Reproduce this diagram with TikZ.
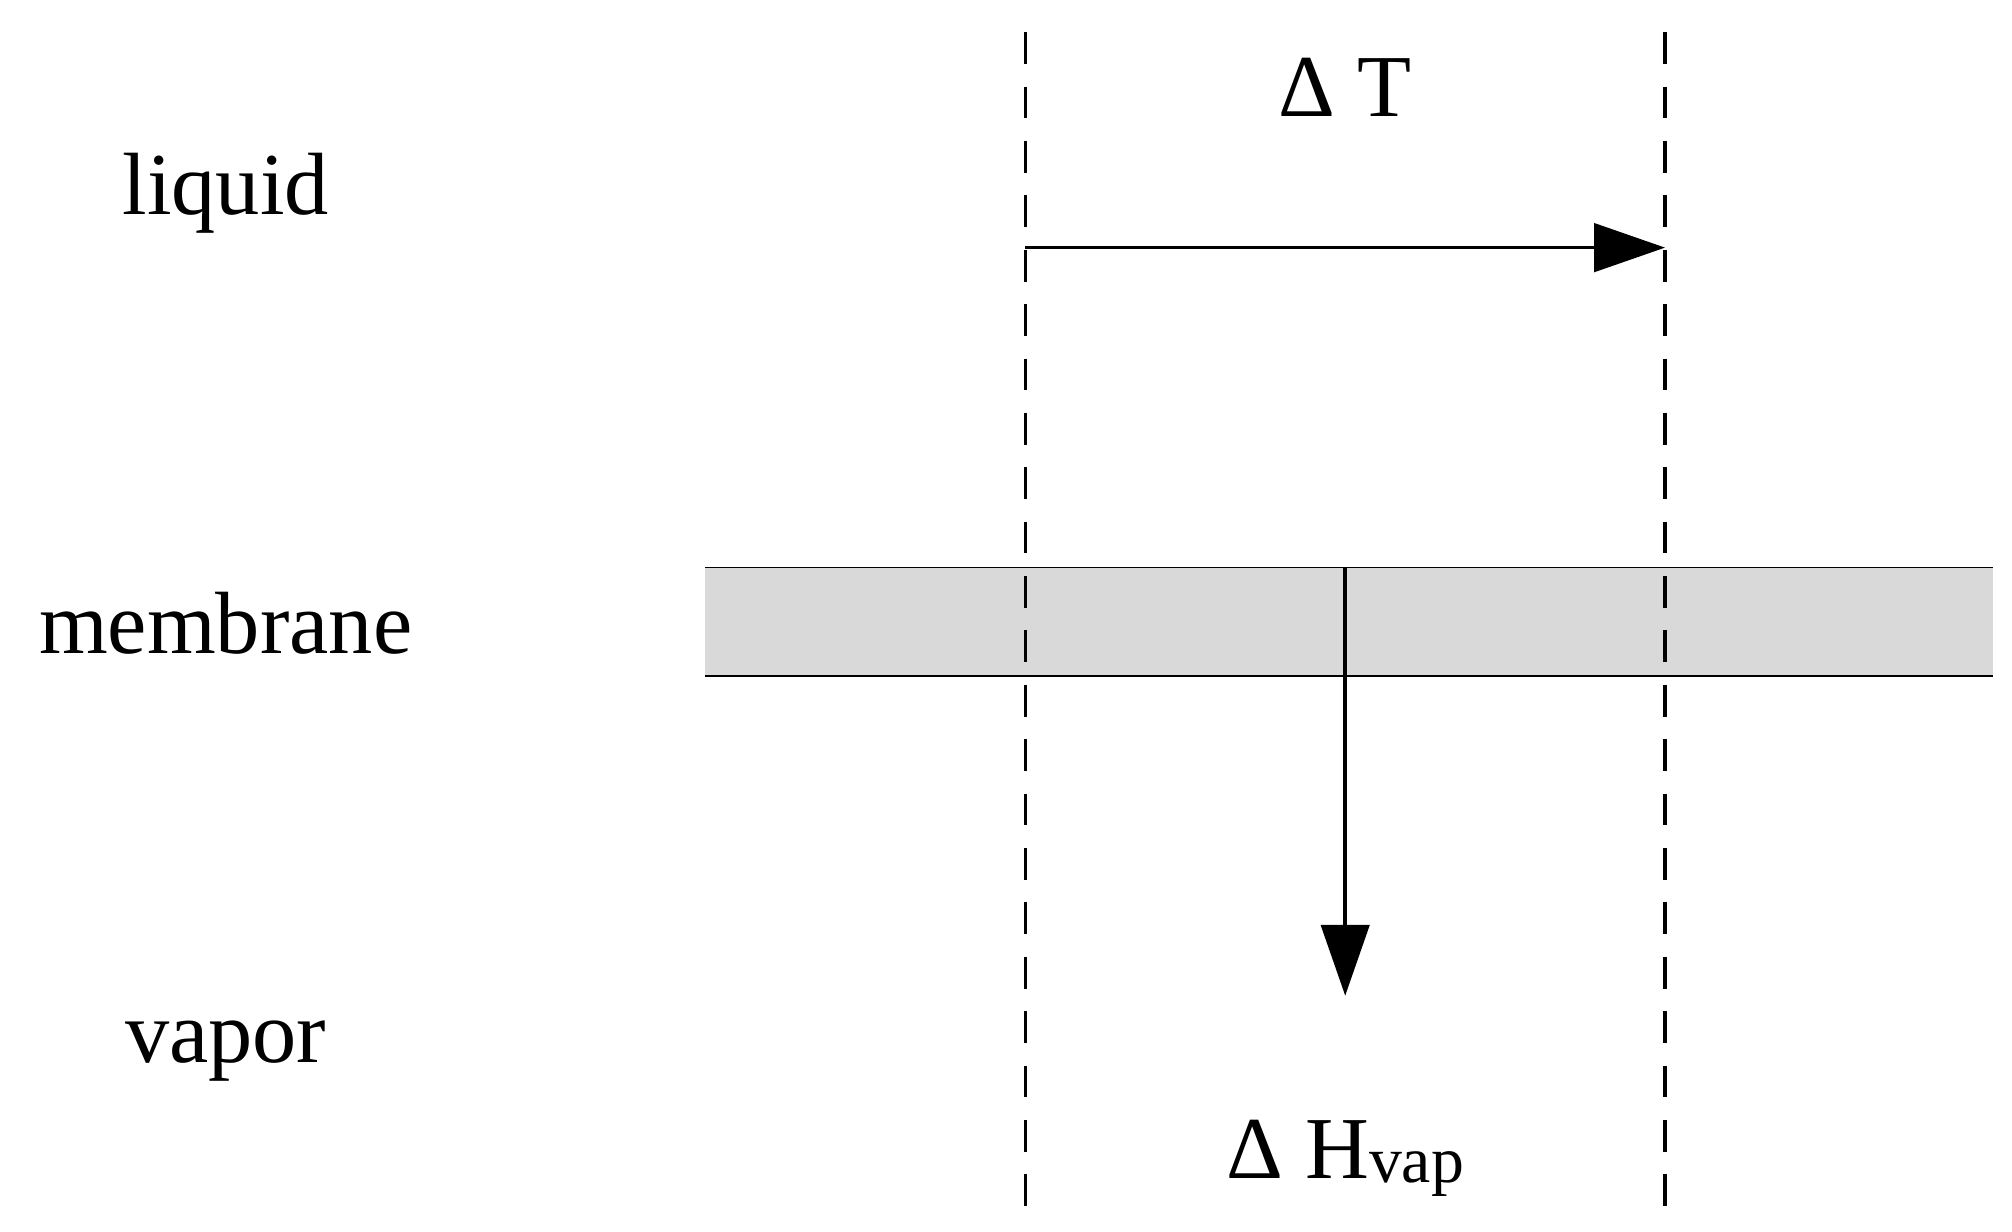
\documentclass[tikz,border=0pt]{standalone}
\usepackage{fontspec}
\setmainfont{Liberation Serif}
\usetikzlibrary{arrows.meta}
\begin{document}
\begin{tikzpicture}[x=0.02cm,y=-0.02cm,
  lbl/.style={font=\fontsize{39}{45}\selectfont},
  dash line/.style={line width=1.6pt,dash pattern=on 14pt off 10pt},
  arr/.style={line width=1.6pt,-{Triangle[length=1.1cm,width=0.75cm]}}]
\useasboundingbox (0,0) rectangle (1560,954.5);
\fill[gray!30] (547,440) rectangle (1545,524);
\draw[line width=0.8pt] (547,440) -- (1545,440) (547,524) -- (1545,524);
\coordinate (l1t) at (795,25); \coordinate (l1b) at (795,940);
\coordinate (l2t) at (1291,25); \coordinate (l2b) at (1291,940);
\draw[dash line] (l1t) -- (l1b);
\draw[dash line] (l2t) -- (l2b);
\coordinate (a1) at (795,192); \coordinate (a2) at (1291,192);
\draw[arr] (a1) -- (a2);
\coordinate (b1) at (1043,440); \coordinate (b2) at (1043,772);
\draw[arr] (b1) -- (b2);
\node[lbl] (dt) at (1043,68) {Δ T};
\node[lbl] (dh) at (1043,898) {Δ H{\fontsize{29}{33}\selectfont\raisebox{-0.15ex}{vap}}};
\node[lbl] (liq) at (175,150) {liquid};
\node[lbl] (mem) at (175,483) {membrane};
\node[lbl] (vap) at (175,815) {vapor};
\end{tikzpicture}
\end{document}
